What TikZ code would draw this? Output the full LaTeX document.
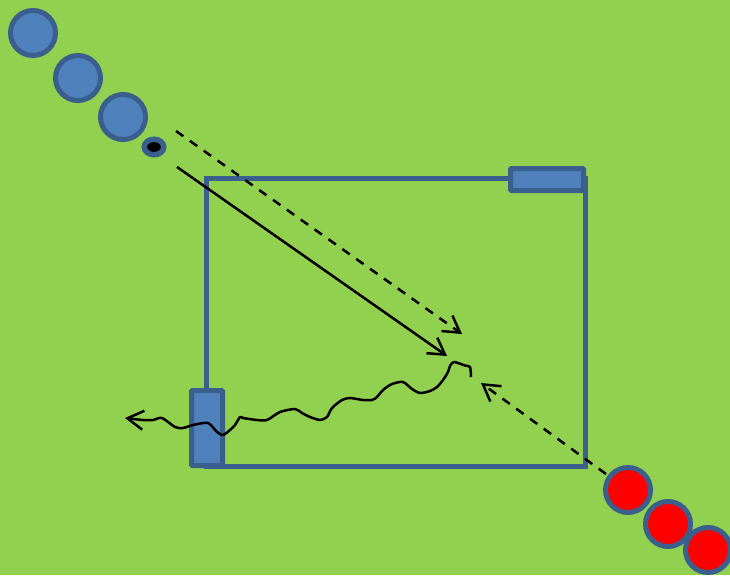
\documentclass[tikz,border=0pt]{standalone}
\usetikzlibrary{arrows.meta,shapes.geometric}
\definecolor{bggreen}{HTML}{92D050}
\definecolor{bluefill}{HTML}{4F81BD}
\definecolor{bluedraw}{HTML}{3A5F8D}
\definecolor{redfill}{HTML}{FF0000}
\tikzset{
  ball/.style={circle, draw=bluedraw, line width=5pt, minimum size=45pt, inner sep=0pt, outer sep=0pt},
  blueball/.style={ball, fill=bluefill},
  redball/.style={ball, fill=redfill},
  tab/.style={rectangle, draw=bluedraw, fill=bluefill, line width=5pt, inner sep=0pt, outer sep=0pt, rounded corners=1pt},
  court/.style={rectangle, draw=bluedraw, line width=5pt, inner sep=0pt, outer sep=0pt},
  tip/.style={-{Straight Barb[length=16pt,width=19pt]}},
  path1/.style={line width=2.5pt, black, tip},
  dashpath/.style={path1, dash pattern=on 9pt off 8pt},
}
\begin{document}
\begin{tikzpicture}[x=1pt,y=-1pt]
\fill[bggreen] (0,0) rectangle (730,575);
\useasboundingbox (0,0) rectangle (730,575);

% court
\node[court, minimum width=379pt, minimum height=288pt] (box) at (395.5,322) {};
\node[tab, minimum width=73pt, minimum height=22pt] (tab1) at (547,179.5) {};
\node[tab, minimum width=31pt, minimum height=75pt] (tab2) at (207,428) {};

% blue balls
\node[blueball] (c1) at (33,33) {};
\node[blueball] (c2) at (78,78) {};
\node[blueball] (c3) at (123,117) {};
\node[ellipse, draw=bluedraw, fill=black, line width=5.5pt, minimum width=19.5pt, minimum height=15.5pt, inner sep=0pt] (dot) at (154,147) {};

% red balls
\node[redball] (r1) at (628,490) {};
\node[redball] (r2) at (668,524) {};
\node[redball] (r3) at (708,550) {};

% arrow end points
\coordinate (d1s) at (176,131);
\coordinate (d1e) at (462,334);
\coordinate (s1s) at (177,167);
\coordinate (s1e) at (447,356);
\coordinate (d2s) at (606,474);
\coordinate (d2e) at (481,383);

\draw[dashpath] (d1s) -- (d1e);
\draw[path1] (s1s) -- (s1e);
\draw[dashpath] (d2s) -- (d2e);

% wiggly path
\draw[path1, line join=round] plot[smooth, tension=0.45] coordinates {
(471,377) (470,367) (465,365.5) (454,362) (450,366) (448,372) (443,380) (437,387) (430,391) (420,393) (412,389) (403,382) (392,384) (383,390) (377,397) (372,400) (363,400) (350,398) (342,400) (332,408) (327,417) (320,420) (310,417) (302,413) (295,409) (280,412) (267,420) (257,420) (243,418) (240,417) (235,425) (230,430) (223,435) (217,432) (208,423) (193,425) (183,428) (175,427) (162,418) (153,420) (143,420) (125,418)};
\end{tikzpicture}
\end{document}
